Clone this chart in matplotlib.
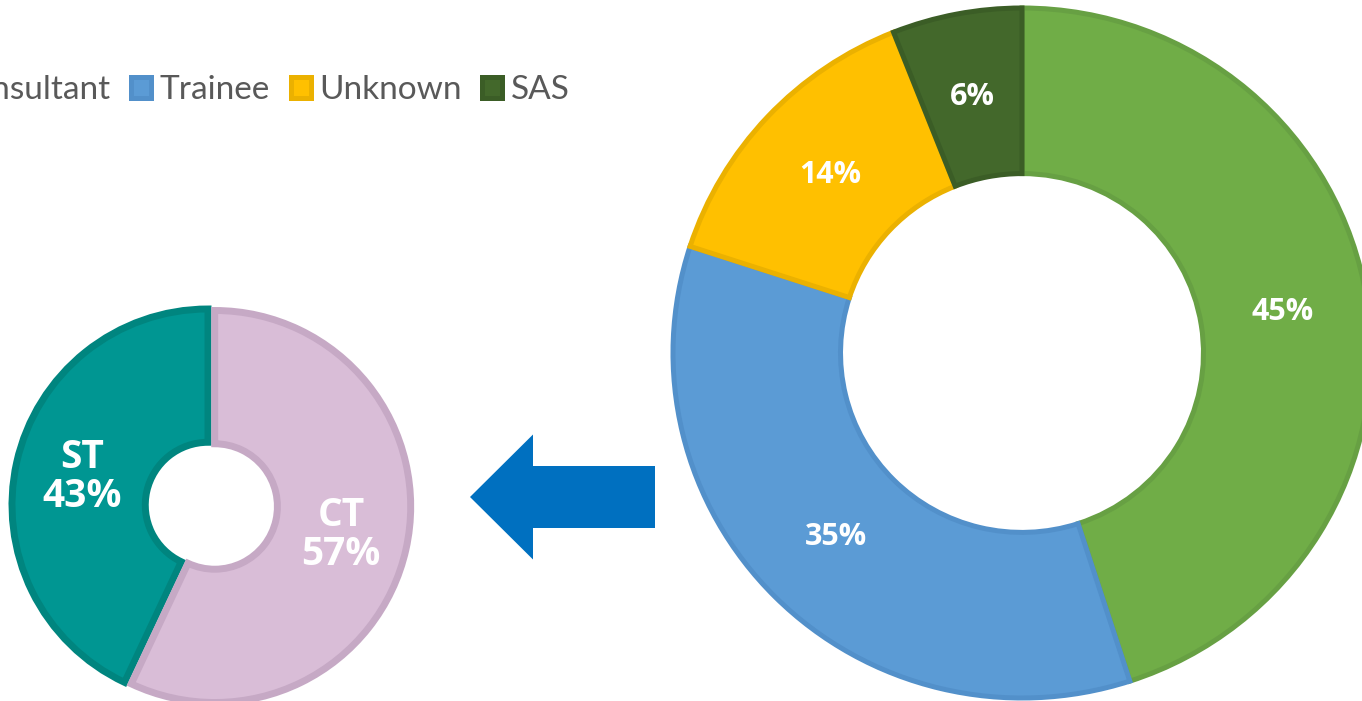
import matplotlib
matplotlib.use("Agg")
import matplotlib.pyplot as plt
from matplotlib.patches import FancyArrow

# big donut: grade of respondents
grades = ["Consultant", "Trainee", "Unknown", "SAS"]
grade_pct = [45, 35, 14, 6]
grade_colors = ["#70AD47", "#5B9BD5", "#FFC000", "#43682B"]
grade_edges = ["#67A043", "#5290CA", "#EBB100", "#3B5D26"]

# small donut: trainee split
trainee_types = ["ST", "CT"]
trainee_pct = [43, 57]
trainee_colors = ["#009692", "#D9BDD7"]
trainee_edges = ["#00857F", "#C6A9C5"]

W, H = 1362, 701
fig = plt.figure(figsize=(W / 100, H / 100), dpi=100)

def px_axes(cx, cy, rx, ry):
    # axes centred on pixel position (cx, cy)
    return fig.add_axes([(cx - rx) / W, (H - cy - ry) / H, 2 * rx / W, 2 * ry / H])

# arrow between the two charts
ov = fig.add_axes([0, 0, 1, 1])
ov.set_xlim(0, W)
ov.set_ylim(H, 0)
ov.axis("off")
ov.add_patch(FancyArrow(655, 497, -185, 0, width=62, head_width=125, head_length=63,
                        length_includes_head=True, color="#0070C0", lw=0))

# big donut
ax1 = px_axes(1022, 353, 349, 345)
wedges, _, pcts = ax1.pie(grade_pct, colors=grade_colors, startangle=90, counterclock=False,
                          radius=1, autopct="%d%%", pctdistance=0.755,
                          wedgeprops=dict(width=0.48, linewidth=3.6),
                          textprops=dict(color="white", fontsize=22, fontweight="bold", family="Open Sans"))
for w, ec in zip(wedges, grade_edges):
    w.set_edgecolor(ec)
ax1.set_xlim(-1, 1)
ax1.set_ylim(-1, 1)
ax1.set_aspect("auto")

# small donut
ax2 = px_axes(208, 505, 196, 196)
w2, _, t2 = ax2.pie(trainee_pct, colors=trainee_colors, startangle=90, counterclock=True,
                    radius=1, autopct="%d%%", pctdistance=0.66, explode=[0, 0.035],
                    wedgeprops=dict(width=0.68, linewidth=5),
                    textprops=dict(color="white", fontsize=28, fontweight="bold", family="Open Sans",
                                   linespacing=1.0))
for w, ec in zip(w2, trainee_edges):
    w.set_edgecolor(ec)
for t, name in zip(t2, trainee_types):
    t.set_text(name + "\n" + t.get_text())
ax2.set_xlim(-1, 1)
ax2.set_ylim(-1, 1)
ax2.set_aspect("equal")

# legend, left part runs off the figure
fig.legend(wedges, grades, loc="center left", bbox_to_anchor=(-0.057, 1 - 90 / H), ncol=4,
           frameon=False, borderpad=0, borderaxespad=0, handlelength=0.6, handleheight=0.6,
           handletextpad=0.25, columnspacing=0.62,
           prop=dict(family="Lato", size=24), labelcolor="#595959")

fig.savefig("out.png", dpi=100)
